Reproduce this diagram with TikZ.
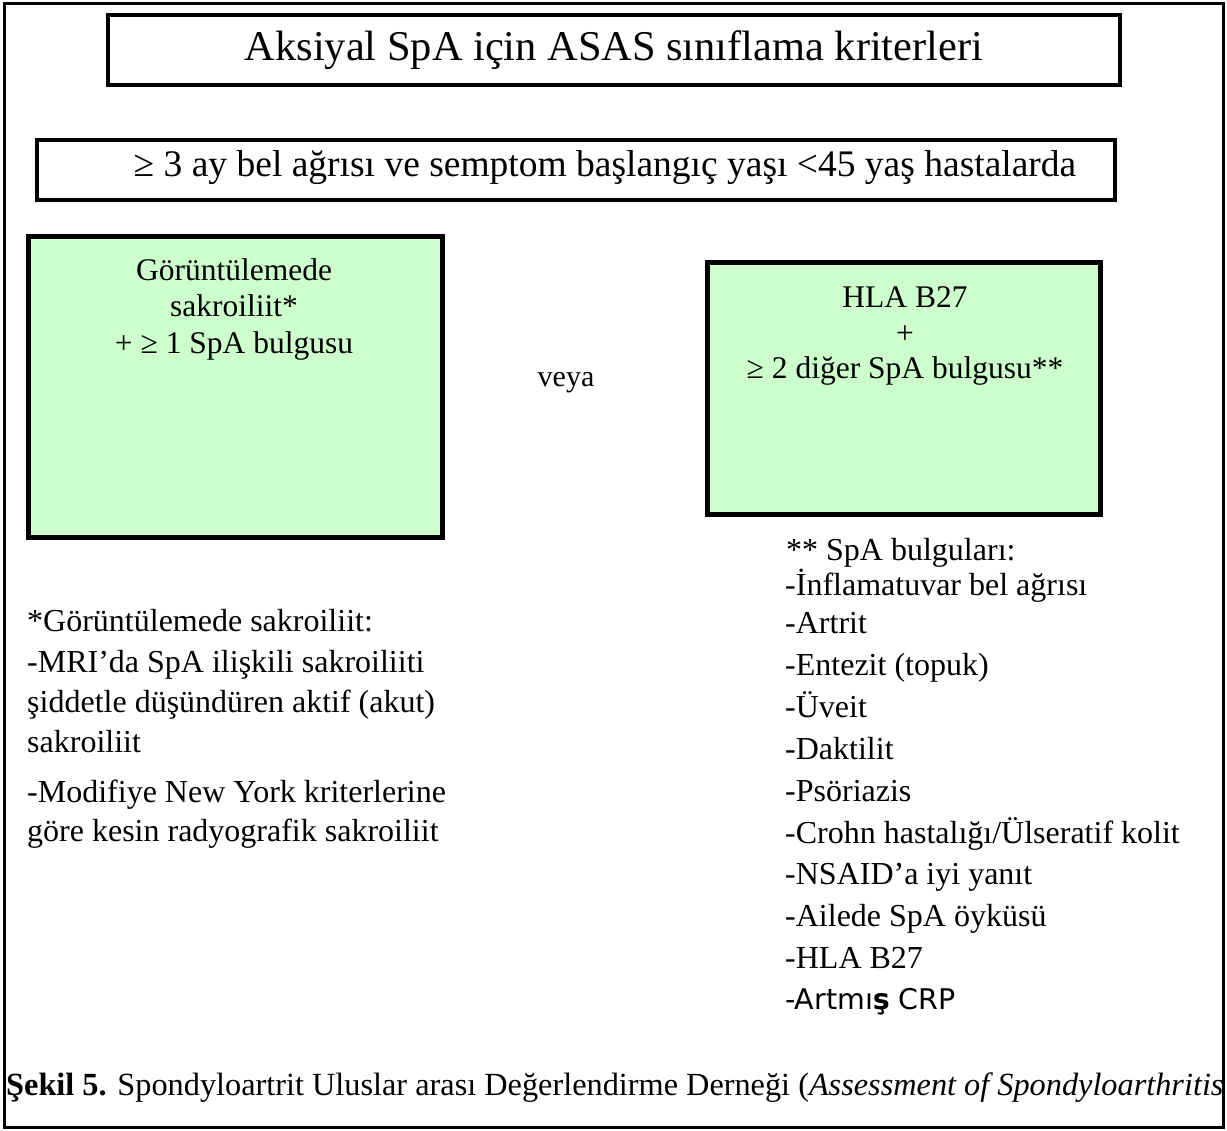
\documentclass[tikz,border=0pt]{standalone}
\usepackage{fontspec}
\setmainfont{Liberation Serif}
\newfontfamily\sansf{DejaVu Sans}
\definecolor{boxgreen}{HTML}{CCFFCC}
\begin{document}
\begin{tikzpicture}[x=1pt,y=-1pt,
  framebox/.style={draw=black, line width=4.5pt, inner sep=0pt, fill=white},
  greenbox/.style={draw=black, line width=5pt, inner sep=0pt, fill=boxgreen},
  boxtxt/.style={font=\fontsize{31.5}{36}\selectfont, align=center, inner sep=0pt, anchor=base},
  listtxt/.style={font=\fontsize{32}{36}\selectfont, inner sep=0pt, anchor=base west}]
\useasboundingbox (0,0) rectangle (1227,1131);
\fill[white] (0,0) rectangle (1227,1131);
\draw[line width=3pt] (4,4) rectangle (1223,1127);
% title
\node[framebox, minimum width=1012pt, minimum height=70pt, font=\fontsize{42.4}{44}\selectfont] (title) at (614,50) {Aksiyal SpA için ASAS sınıflama kriterleri};
\node[framebox, minimum width=1078pt, minimum height=60pt] (crit) at (576,170) {};
\node[inner sep=0pt, font=\fontsize{37.5}{40}\selectfont] (crittxt) at (605,168) {≥ 3 ay bel ağrısı ve semptom başlangıç yaşı <45 yaş hastalarda};
% green boxes
\node[greenbox, minimum width=414pt, minimum height=300pt] (left) at (235,387) {};
\node[greenbox, minimum width=393pt, minimum height=252pt] (right) at (903.5,389) {};
\node[boxtxt] (l1) at (234,281) {Görüntülemede};
\node[boxtxt] (l2) at (234,317) {sakroiliit*};
\node[boxtxt] (l3) at (234,354) {+ ≥ 1 SpA bulgusu};
\node[boxtxt] (r1) at (905,308) {HLA B27};
\node[boxtxt] (r2) at (905,344) {+};
\node[boxtxt] (r3) at (905,379) {≥ 2 diğer SpA bulgusu**};
\node[boxtxt, font=\fontsize{30}{34}\selectfont] (veya) at (566,387) {veya};
% left list
\node[listtxt] (a0) at (27,631) {*Görüntülemede sakroiliit:};
\node[listtxt] (a1) at (27,672) {-MRI’da SpA ilişkili sakroiliiti};
\node[listtxt] (a2) at (27,712) {şiddetle düşündüren aktif (akut)};
\node[listtxt] (a3) at (27,752) {sakroiliit};
\node[listtxt] (a4) at (27,802) {-Modifiye New York kriterlerine};
\node[listtxt] (a5) at (27,841) {göre kesin radyografik sakroiliit};
% right list
\node[listtxt] (b0) at (786,560) {** SpA bulguları:};
\node[listtxt] (b1) at (785,595) {-İnflamatuvar bel ağrısı};
\node[listtxt] (b2) at (785,633) {-Artrit};
\node[listtxt] (b3) at (785,675) {-Entezit (topuk)};
\node[listtxt] (b4) at (785,717) {-Üveit};
\node[listtxt] (b5) at (785,759) {-Daktilit};
\node[listtxt] (b6) at (785,801) {-Psöriazis};
\node[listtxt] (b7) at (785,843) {-Crohn hastalığı/Ülseratif kolit};
\node[listtxt] (b8) at (785,884) {-NSAID’a iyi yanıt};
\node[listtxt] (b9) at (785,926) {-Ailede SpA öyküsü};
\node[listtxt] (b10) at (785,968) {-HLA B27};
\node[listtxt, font=\fontsize{28.5}{32}\sansf] (b11) at (785,1009) {-Artmı\textbf{ş} CRP};
% caption
\node[listtxt, font=\fontsize{32.3}{36}\selectfont] (cap) at (6,1095) {\textbf{Şekil 5.} Spondyloartrit Uluslar arası Değerlendirme Derneği (\textit{Assessment of Spondyloarthritis}};
\end{tikzpicture}
\end{document}
